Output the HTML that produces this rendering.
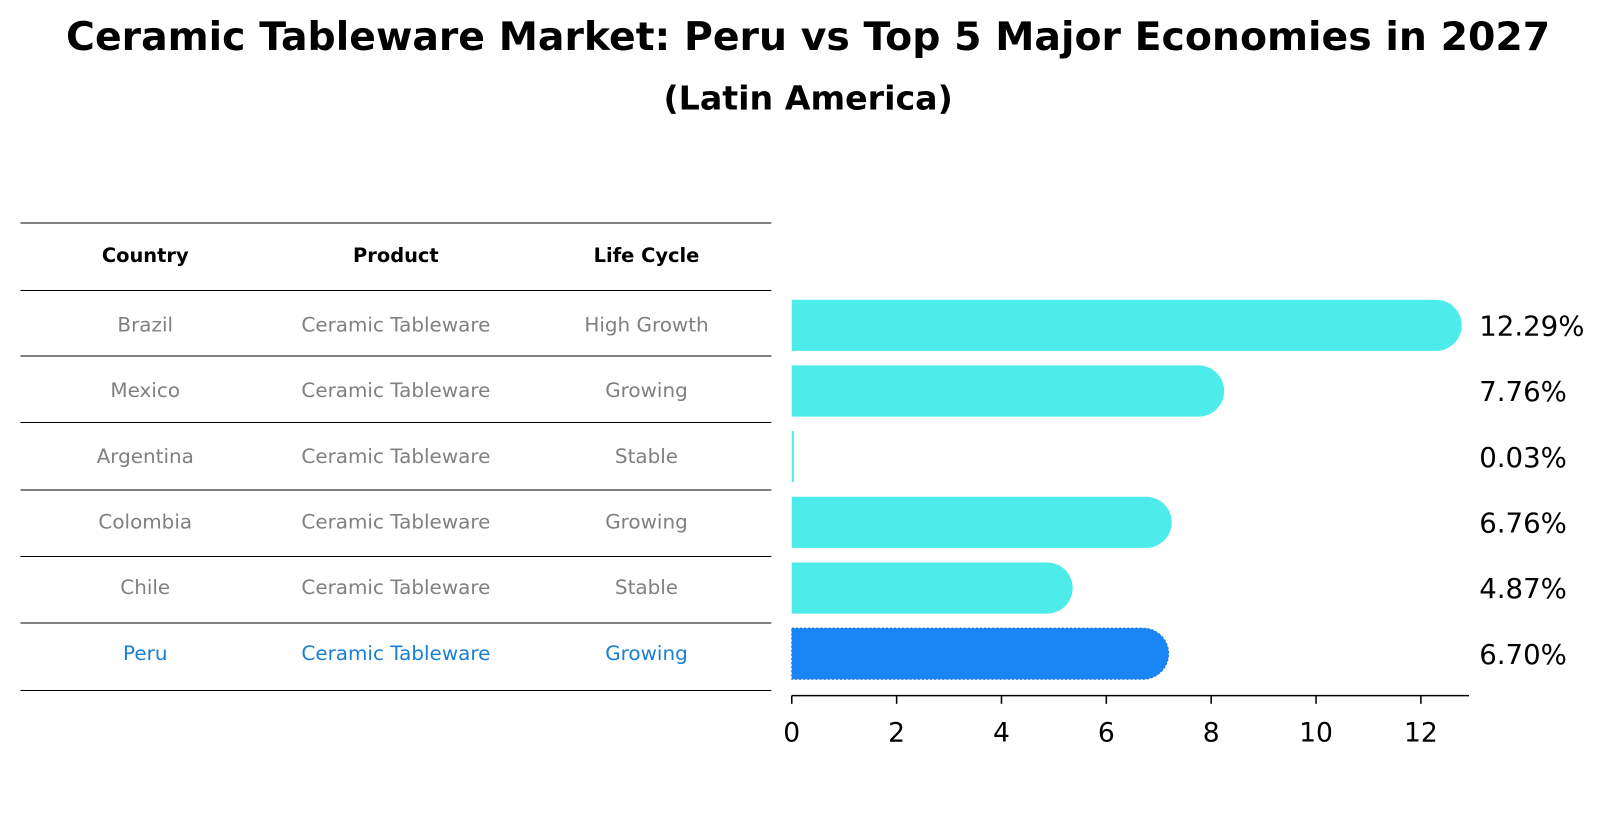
<!DOCTYPE html>
<html><head><meta charset="utf-8"><style>
body{margin:0;background:#fff;font-family:"DejaVu Sans","Liberation Sans",sans-serif;}
svg text{font-family:"DejaVu Sans","Liberation Sans",sans-serif;}
</style></head><body>
<svg id="chart" width="1604" height="823" viewBox="0 0 1568 804.5" preserveAspectRatio="none" xmlns="http://www.w3.org/2000/svg">
<text x="790" y="49" text-anchor="middle" font-size="38.5" font-weight="bold">Ceramic Tableware Market: Peru vs Top 5 Major Economies in 2027</text>
<text x="790" y="107" text-anchor="middle" font-size="32.5" font-weight="bold">(Latin America)</text>
<g id="table"></g>
<g id="bars"></g>
</svg>
<script>
const countries=["Brazil","Mexico","Argentina","Colombia","Chile","Peru"];
const products=["Ceramic Tableware","Ceramic Tableware","Ceramic Tableware","Ceramic Tableware","Ceramic Tableware","Ceramic Tableware"];
const lifecycles=["High Growth","Growing","Stable","Growing","Stable","Growing"];
const values=[12.29,7.76,0.03,6.76,4.87,6.70];
const valueLabels=["12.29%","7.76%","0.03%","6.76%","4.87%","6.70%"];
const ticks=[0,2,4,6,8,10,12];
const NS="http://www.w3.org/2000/svg";
function mk(tag,attrs,parent){const e=document.createElementNS(NS,tag);for(const k in attrs)e.setAttribute(k,attrs[k]);parent.appendChild(e);return e;}
const x0=774,unit=51.25;
const xs=v=>x0+v*unit;
const rowY=i=>318+i*64.2;
const table=document.getElementById('table');
const lines=[218,284,348,413,479,544,609,675];
lines.forEach(y=>{const l=mk('line',{x1:20,x2:754,y1:y,y2:y,stroke:'#000','stroke-width':1},table);

});
const colX=[142,387,632];
["Country","Product","Life Cycle"].forEach((h,j)=>{const t=mk('text',{x:colX[j],y:256,'text-anchor':'middle','font-size':19,'font-weight':'bold'},table);t.textContent=h;

});
countries.forEach((c,i)=>{const col=i===5?'#1a7fd4':'#808080';const y=rowY(i)+6;
[c,products[i],lifecycles[i]].forEach((s,j)=>{const t=mk('text',{x:colX[j],y:y,'text-anchor':'middle','font-size':19.5,fill:col},table);t.textContent=s;

});});
const bars=document.getElementById('bars');
const h=50,r=25;
values.forEach((v,i)=>{const yc=rowY(i);const xe=xs(v);const peru=i===5;
let d;
if(v<0.2){d=`M${x0} ${yc-h/2}H${x0+2}V${yc+h/2}H${x0}Z`;}
else d=`M${x0} ${yc-h/2}H${xe}A${r} ${r} 0 0 1 ${xe} ${yc+h/2}H${x0}Z`;
const p=mk('path',{d:d,fill:peru?'#1a86f5':'#4deceb'},bars);
if(peru){p.setAttribute('stroke','#1a6fd4');p.setAttribute('stroke-dasharray','2 2');p.setAttribute('stroke-width','1');}


const t=mk('text',{x:1446,y:yc+10,'font-size':27},bars);t.textContent=valueLabels[i];

});
const ax=mk('line',{x1:774,x2:1436,y1:680,y2:680,stroke:'#000','stroke-width':1.5},bars);


ticks.forEach(tv=>{const x=xs(tv);const l=mk('line',{x1:x,x2:x,y1:680,y2:688,stroke:'#000','stroke-width':1.5},bars);


const t=mk('text',{x:x,y:725,'text-anchor':'middle','font-size':26},bars);t.textContent=tv;

});
</script>
</body></html>
